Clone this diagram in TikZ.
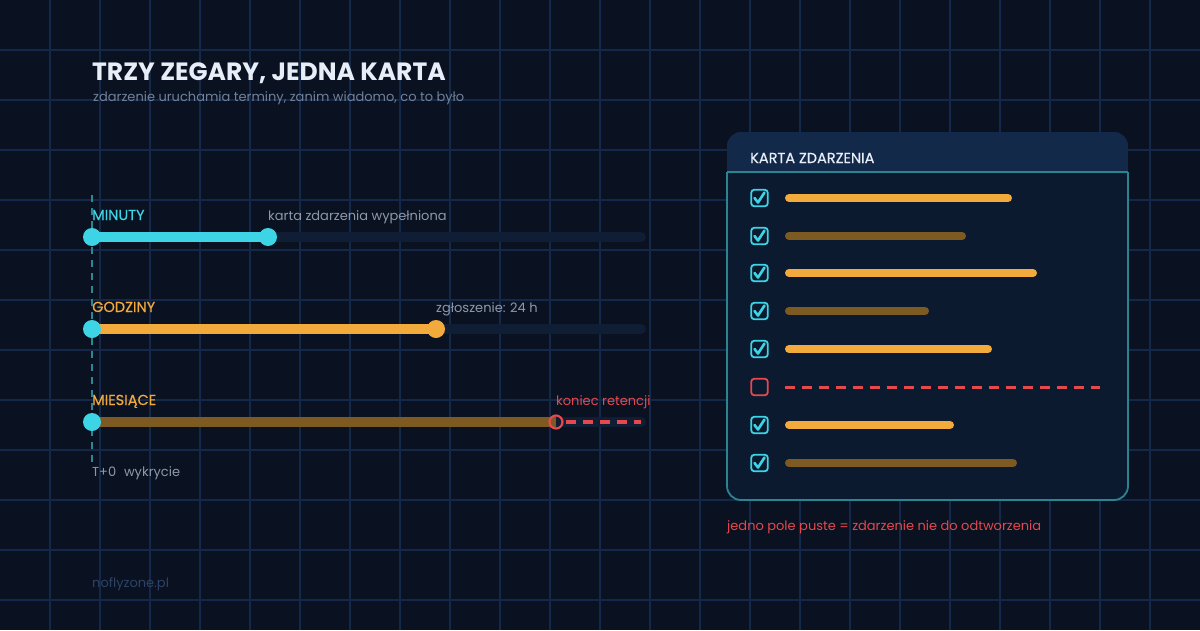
\documentclass[tikz,border=0pt]{standalone}
\usepackage{fontspec}
\setmainfont{Poppins}
\newfontfamily\medfont{Poppins}[FakeBold=0.45]
\definecolor{bgc}{HTML}{0A1120}
\definecolor{gridc}{HTML}{14294A}
\definecolor{trackc}{HTML}{0F1D35}
\definecolor{cyanc}{HTML}{3DD5E6}
\definecolor{orangec}{HTML}{F3AA3C}
\definecolor{brownc}{HTML}{7E5A23}
\definecolor{redc}{HTML}{E5484D}
\definecolor{greyc}{HTML}{8C99AD}
\definecolor{subc}{HTML}{6F819C}
\definecolor{tealc}{HTML}{2A8894}
\definecolor{headc}{HTML}{13294A}
\definecolor{bodyc}{HTML}{0C1A30}
\definecolor{borderc}{HTML}{2B8590}
\definecolor{footc}{HTML}{2C4266}
\definecolor{titlec}{HTML}{E8EEF7}
\tikzset{
  gridline/.style={gridc, line width=1.3pt},
  txt/.style={anchor=base west, inner sep=0pt, font=\fontsize{13}{15}\selectfont},
  lbl/.style={txt, font=\medfont\fontsize{14.5}{17}\selectfont},
  track/.style={trackc, line width=10pt, line cap=round},
  bar/.style={line width=10pt, line cap=butt},
  dotc/.style={circle, fill=cyanc, minimum size=18pt, inner sep=0pt},
  doto/.style={circle, fill=orangec, minimum size=18pt, inner sep=0pt},
  ringr/.style={circle, draw=redc, line width=2.2pt, minimum size=13pt, inner sep=0pt},
  cbox/.style={draw=cyanc, line width=1.8pt, rounded corners=3pt, minimum size=16.5pt, inner sep=0pt},
  rbox/.style={draw=redc, line width=1.8pt, rounded corners=3pt, minimum size=16.5pt, inner sep=0pt},
  fbar/.style={line width=8pt, line cap=round},
  tick/.style={cyanc, line width=2.6pt, line cap=round, line join=round},
}
\begin{document}
\begin{tikzpicture}[x=1pt,y=-1pt]
\useasboundingbox (0,0) rectangle (1200,630);
\fill[bgc] (0,0) rectangle (1200,630);
\foreach \x in {50,100,...,1150} \draw[gridline] (\x,0) -- (\x,630);
\foreach \y in {50,100,...,600} \draw[gridline] (0,\y) -- (1200,\y);

% title
\node[anchor=base west, inner sep=0pt, text=titlec, font=\fontsize{25}{29}\selectfont\bfseries] (title) at (92,80) {TRZY ZEGARY, JEDNA KARTA};
\node[txt, text=subc] (sub) at (93,101) {zdarzenie uruchamia terminy, zanim wiadomo, co to było};

% T+0 dashed line
\coordinate (t0top) at (92,195);
\coordinate (t0bot) at (92,462);
\draw[tealc, line width=1.6pt, dash pattern=on 7pt off 6pt] (t0top) -- (t0bot);

% MINUTY
\node[lbl, text=cyanc] (minl) at (92,220) {MINUTY};
\node[txt, text=greyc] (minn) at (268,220) {karta zdarzenia wypełniona};
\coordinate (m0) at (92,237);
\coordinate (mend) at (641,237);
\coordinate (m1) at (268,237);
\draw[track] (m0) -- (mend);
\draw[bar, cyanc] (m0) -- (m1);
\node[dotc] (md0) at (m0) {};
\node[dotc] (md1) at (m1) {};

% GODZINY
\node[lbl, text=orangec] (godl) at (92,312) {GODZINY};
\node[txt, text=greyc] (godn) at (436,312) {zgłoszenie: 24 h};
\coordinate (g0) at (92,329);
\coordinate (gend) at (641,329);
\coordinate (g1) at (436,329);
\draw[track] (g0) -- (gend);
\draw[bar, orangec] (g0) -- (g1);
\node[doto] (gd1) at (g1) {};
\node[dotc] (gd0) at (g0) {};

% MIESIACE
\node[lbl, text=orangec] (miel) at (92,405) {MIESIĄCE};
\node[txt, text=redc] (mien) at (556,405) {koniec retencji};
\coordinate (s0) at (92,422);
\coordinate (send) at (641,422);
\coordinate (s1) at (556,422);
\coordinate (s2) at (566,422);
\coordinate (s3) at (641,422);
\draw[track] (s0) -- (send);
\draw[bar, brownc] (s0) -- (s1);
\draw[redc, line width=3.5pt, dash pattern=on 10pt off 7pt] (s2) -- (s3);
\node[ringr] (sr) at (s1) {};
\node[dotc] (sd0) at (s0) {};

\node[txt, text=greyc] (t0l) at (92,476) {T+0\hspace{0.6em}wykrycie};
\node[txt, text=footc] (foot) at (92,587) {noflyzone.pl};

% card
\fill[bodyc, rounded corners=14pt] (727,132) rectangle (1128,500);
\begin{scope}
\clip[rounded corners=14pt] (727,132) rectangle (1128,500);
\fill[headc] (727,132) rectangle (1128,172);
\end{scope}
\draw[borderc, line width=1.8pt, rounded corners=14pt] (727,172) -- (727,500) -- (1128,500) -- (1128,172);
\draw[borderc, line width=1.8pt] (727,172) -- (1128,172);
\node[anchor=base west, inner sep=0pt, text=titlec, font=\medfont\fontsize{14.5}{17}\selectfont] (cardt) at (750,163) {KARTA ZDARZENIA};

% rows
\foreach \y/\e/\c [count=\i] in {198/1008/orangec, 236/962/brownc, 273/1033/orangec, 311/925/brownc, 349/988/orangec, 425/950/orangec, 463/1013/brownc} {
  \node[cbox] (cb\i) at (759.5,\y) {};
  \draw[tick] (754.5,\y) -- (758,\y+4.5) -- (764.5,\y-5.5);
  \draw[fbar, \c] (789,\y) -- (\e,\y);
}
\node[rbox] (cbx) at (759.5,387) {};
\coordinate (dx0) at (785,387);
\coordinate (dx1) at (1100,387);
\draw[redc, line width=3pt, dash pattern=on 10pt off 7pt] (dx0) -- (dx1);

\node[txt, text=redc] (note) at (727,530) {jedno pole puste = zdarzenie nie do odtworzenia};
\end{tikzpicture}
\end{document}
